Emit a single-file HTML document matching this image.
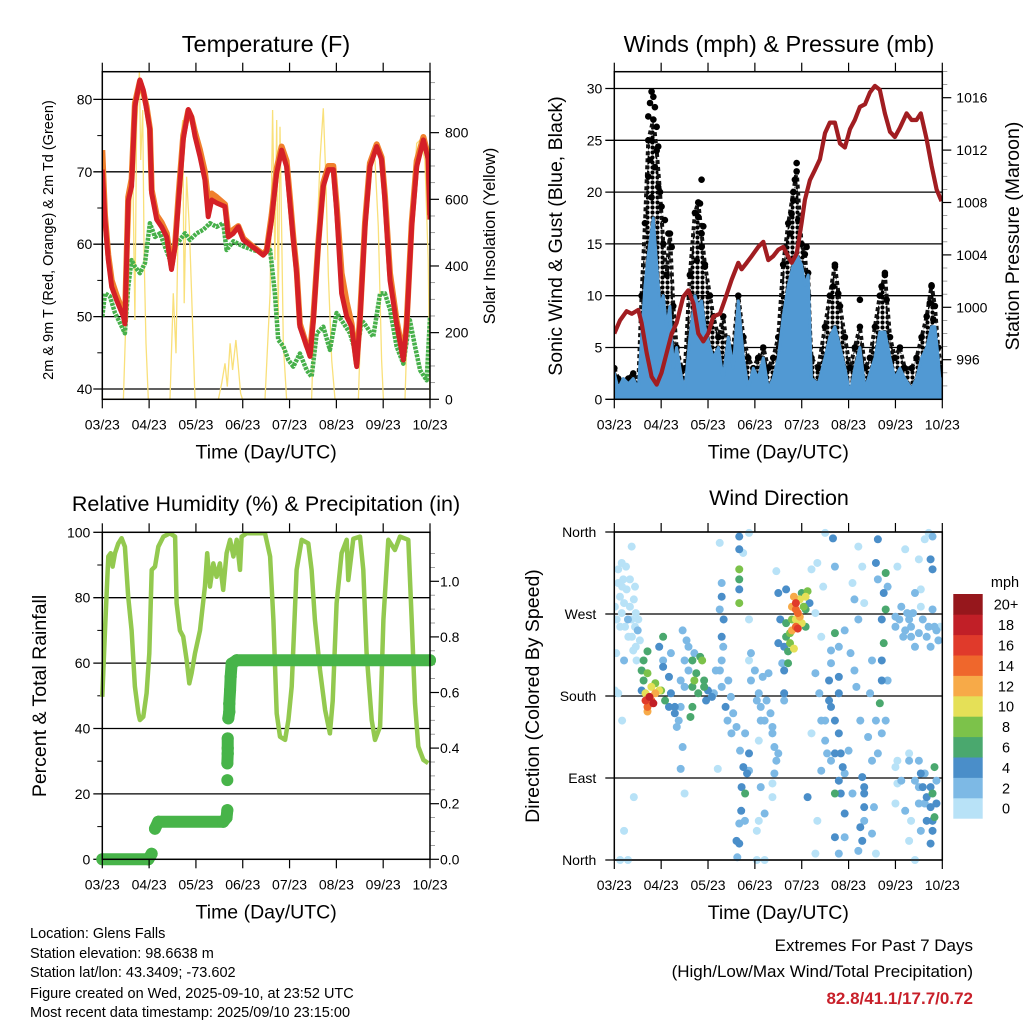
<!DOCTYPE html>
<html><head><meta charset="utf-8"><style>
html,body{margin:0;padding:0;background:#fff}
svg{display:block;font-family:"Liberation Sans",sans-serif}
</style></head><body>
<svg id="chart" width="1024" height="1024" viewBox="0 0 1024 1024" xmlns="http://www.w3.org/2000/svg">
<defs>
<pattern id="gustdots" width="5" height="5" patternUnits="userSpaceOnUse">
<circle cx="2.5" cy="2.5" r="2.1" fill="#000"/>
</pattern>
</defs>
<rect x="0" y="0" width="1024" height="1024" fill="#fff"/>
<g id="p1"></g>
<g id="p2"></g>
<g id="p3"></g>
<g id="p4"></g>
<g font-size="14.5" fill="#000">
<text x="30" y="938">Location: Glens Falls</text>
<text x="30" y="958">Station elevation: 98.6638 m</text>
<text x="30" y="977">Station lat/lon: 43.3409; -73.602</text>
<text x="30" y="998">Figure created on Wed, 2025-09-10, at 23:52 UTC</text>
<text x="30" y="1017">Most recent data timestamp: 2025/09/10 23:15:00</text>
</g>
<g text-anchor="end" font-size="17">
<text x="973" y="951">Extremes For Past 7 Days</text>
<text x="973" y="977">(High/Low/Max Wind/Total Precipitation)</text>
<text x="973" y="1004" fill="#c8202a" font-weight="bold">82.8/41.1/17.7/0.72</text>
</g>
</svg>
<script>
// ---------- DATA ----------
const dayLabels = ["03/23","04/23","05/23","06/23","07/23","08/23","09/23","10/23"];
const dayHours = [0,24,48,72,96,120,144,168];
const tempHours = [0,1.4,3.1,4.8,7.3,10.8,11.6,13.3,15.0,16.7,19.3,21.0,22.7,24.4,25.3,27.9,30.4,33.0,35.5,37.3,39.0,41.5,44.1,45.8,47.5,50.1,52.6,54.3,56.1,58.6,62.9,64.6,67.2,69.7,72.3,75.7,79.1,82.5,84.3,86.8,89.4,91.9,94.5,96.2,97.9,99.6,101.3,104.8,106.5,108.2,110.7,113.3,115.9,118.4,120.1,122.7,125.3,127.8,130.4,132.1,134.7,137.2,140.7,143.2,144.9,147.5,150.9,154.3,156.0,158.6,161.2,164.6,167.1,168];
const tempRed = [70.3,63.4,57.8,54.1,52.3,50,49,66,68,79,82.7,81.3,78.6,75.8,67,63.4,62.4,61,56.5,59.7,65.7,74.4,78.6,77.6,74.9,72.1,68.9,63.8,66.1,65.7,65.2,61,61.5,62.4,60.6,59.9,59.2,58.5,59,63.4,69.8,73,70.7,65.7,60.6,56,48.6,45.9,44.5,49.5,59.7,68,70.3,70.3,64.7,53.2,50,48.6,43.1,49.5,62.4,70.7,73.5,71.7,66.1,55,49,44,48.6,62.4,70.7,74.4,71.7,63.4];
const tempOrange = [73,64,58.5,55,53,50.5,49.5,66.5,69,79.5,82.5,81,79,76,67.5,64,63,61.5,57,60,66.5,75,78.5,77.5,75.5,73,70,66,67,66.5,65.5,61.5,62,62.5,60.8,60,59.3,58.6,59.2,64,70.5,73.5,71.5,66.5,61,56.5,49,46,45,50,60,68.5,70.8,70.8,65.5,56,52,49,43.5,50,63,71.2,73.8,72,66.8,56,49.5,44.5,49,63,71.5,74.8,72.2,64];
const dewHours = [0,1.4,3.9,6.5,9.1,11.6,13.3,15.0,16.7,19.3,21.9,24.4,27.0,29.6,32.1,34.7,37.3,39.8,42.4,44.9,48.4,51.8,55.2,58.6,62.0,63.7,67.2,72.3,77.4,82.5,86.0,88.5,90.2,92.8,95.4,97.9,101.3,104.8,107.3,109.9,113.3,116.7,120.1,123.6,127.0,130.4,133.0,135.5,138.9,142.4,144.9,147.5,150.9,154.3,157.7,160.3,162.9,166.3,168];
const dewVals = [50,53.2,52.8,50.5,49.1,47.7,54.1,57.8,56.9,56,57.4,62.9,61,61.5,59.7,57.8,59.7,60.6,61.5,60.6,61.5,62,62.9,62.4,62.9,59.2,60.4,59.7,59.2,58.8,59.2,53.2,46.8,45.9,44,43.1,44.9,42.6,41.7,47.7,48.6,45.4,50.5,49.1,47.7,44.5,49.5,48.6,47.2,53.2,53.2,51,45.9,43.5,49.5,45.9,42.6,41.2,50];
const solarHours = [0,10.8,12.5,14.2,15.6,16.7,17.6,19.0,19.7,20.7,21.5,22.4,23.6,34.7,36.4,37.8,39.0,40.2,41.2,42.0,43.2,44.6,45.8,47.5,59.5,61.2,62.9,64.1,65.5,66.8,68.5,69.7,70.9,71.9,83.4,86.0,87.3,88.5,89.4,90.2,91.1,91.9,92.8,94.5,107.3,109.0,111.6,113.3,114.6,115.9,117.6,119.3,131.3,133.0,135.5,138.1,139.8,141.5,143.2,144.1,155.2,156.9,159.4,161.2,162.9,165.4,167.1,168];
const solarVals = [0,0,318,518,718,238,818,983,718,868,418,168,0,0,318,138,568,768,838,288,668,518,318,0,0,48,108,38,168,88,178,98,18,0,0,318,868,418,838,238,818,518,168,0,0,318,718,873,668,368,118,0,0,318,618,738,718,518,118,0,0,318,618,768,778,718,418,0];
const presHours = [0,2.9,6.3,8.9,12.3,14.0,16.6,19.1,21.7,24.2,26.8,29.4,31.9,35.3,37.9,40.5,43.0,45.6,48.1,50.7,54.1,56.7,60.1,63.5,65.2,67.8,70.3,73.7,76.3,78.9,81.4,84.0,86.5,88.3,90.8,93.4,95.9,97.6,100.2,102.8,105.3,107.9,110.4,113.0,115.6,118.1,120.7,123.2,125.8,128.4,130.9,133.5,136.0,138.6,141.2,143.7,146.3,149.7,152.3,154.8,157.0,160.0,162.5,165.1,167.6];
const presVals = [998,999,999.7,999.5,999.8,998.8,996.5,994.7,994.1,995,996.5,998,998.8,1000.8,1001.3,1000.3,998,997.4,998,999.3,999.5,1000.6,1002.1,1003.4,1002.9,1003.4,1003.9,1004.6,1005,1003.6,1003.9,1004.4,1004.6,1004.1,1003.4,1004.1,1006.4,1008.2,1009.7,1010.5,1011.3,1013.3,1014.1,1014.1,1012.5,1012.2,1013.6,1014.3,1015.3,1015.5,1016.4,1016.9,1016.6,1014.8,1013.4,1013,1013.7,1014.8,1014.3,1014.3,1014.8,1012.8,1010.8,1009,1008.1];
const windHours = [0,2.0,4.6,7.2,9.7,12.3,14.0,15.7,17.4,20.0,21.7,23.4,25.1,26.8,28.5,30.2,31.9,34.5,36.2,38.7,41.3,43.0,44.7,46.4,49.0,50.7,53.3,55.8,58.4,60.9,63.5,66.1,68.6,71.2,73.7,76.3,78.9,81.4,84.0,86.5,89.1,91.7,93.4,95.9,97.6,99.3,101.0,104.5,107.9,110.4,113.0,115.6,118.1,120.7,123.2,125.8,128.4,130.9,133.5,136.0,138.6,141.2,143.7,146.3,148.8,152.3,154.8,157.4,160.0,162.5,164.2,165.9,167.3,168];
const windVals = [2.5,1,2,1.5,2,1,6,11,14,17.5,13,9,10,7,9,3,5,2,1,6,10,9,9.5,7,5,4,5,2,6,3,9.5,4,1,3,2,4,1,2,4,8,11,13,14,13,11,12,2,1.5,4,6,7,5,3,0.5,3,5,1,2.5,4,6.5,6.5,4,2,3,2,1,2,4,5,7,7,4,0.5,2];
const gustVals = [3,2,1.5,2,2.5,1.5,10,17,25,27,24,20,15,12,16,9,5,3,3,12,18,19,16,13,10,8,6,8,4,5,10,6,4,3,4,5,3,4,6,13,17,20,22,15,14,10,4,3,7,10,13,9,6,3,5,7,3,4,7,10,12,6,4,5,3,3,4,6,8,11,9,5,3,3];
const gustPeakHours = [19.1,20,18.3,20.8,17.4,21.7,19.1,22.5,18.3,20.8,17.4,22.5,19.1,24.2,25.9,27.7,29.4,44.7,43.9,43,45.6,44.7,42.2,46.4,93.4,92.5,91.7,90.8,94.2,90,98.5,99.3,113,112.1,114.7,125.8,138.6,136.9,139.5,162.5,161.6,163.4];
const gustPeakVals = [29.7,29.2,28.6,28.2,27.3,26.3,25,24.4,23.1,22.4,21.5,20.5,19.5,18.6,17.3,16,14.7,21.2,18.9,17.6,16.7,14.7,13.4,12.8,22.8,21.2,19.2,17.9,17.3,16,14.7,12.2,12.8,10.9,10.2,9.6,12.2,10.9,9.6,10.9,9.3,7.7];
const rhHours = [0,1.4,2.2,3.1,4.3,5.3,6.5,8.2,9.9,11.6,13.3,15.0,16.7,18.5,19.3,21.0,22.7,24.1,25.3,27.0,28.7,31.3,34.7,37.3,38.1,39.8,41.5,43.2,44.6,45.8,47.5,50.1,52.6,53.8,55.2,56.9,58.6,60.3,62.0,63.7,65.5,67.2,68.9,70.6,71.4,74.0,79.1,83.4,86.0,87.7,89.4,91.1,93.7,95.4,97.1,99.6,102.2,105.6,107.3,109.0,111.6,114.2,116.7,118.1,120.1,122.7,125.3,126.1,128.7,132.1,133.8,135.5,138.1,139.8,142.4,144.1,146.6,150.0,152.6,156.9,158.6,160.3,162.0,164.6,167.1];
const rhVals = [49.7,70,81,92.6,93.6,89.5,93.6,96.6,98.2,95.6,80.3,70,52.8,44.6,42.6,43.6,50.8,63,88.5,89.5,95.6,98.7,99.7,98.7,78.3,70,68.1,61,53.8,56.9,63,70,83.4,93.6,83.4,90.5,86.4,90.5,82.4,93.6,97.7,92.6,97.7,88.5,98.7,99.7,99.7,99.7,92.6,73.2,44.6,37.5,36.5,42.6,52.8,88.5,97.7,96.6,88.5,73.2,57.9,45.7,38.5,48.4,78.3,93.6,97.7,85.4,98,98.7,88.5,63,42.6,36.5,40.6,73.2,97.7,94.6,98.7,97.7,73.2,47.7,34.5,30.4,29.4];
const prHours = [0,23.6,25.3,27.0,28.7,62.0,63.7,64.1,64.1,64.1,64.3,64.3,64.3,64.6,65.1,65.1,65.5,65.8,66.3,68.9,168];
const prVals = [0,0,0.02,0.11,0.135,0.135,0.15,0.177,0.285,0.345,0.38,0.40,0.435,0.507,0.53,0.56,0.608,0.656,0.704,0.716,0.716];
const dirHour = [2,4,5,7,9,11,3,1,5,8,10,12,11,6,2,4,10,5,3,7,
16,18,20,17,21,23,19,15,15,17,24,26,25,28,25,14,17,
31,33,34,36,38,40,41,43,45,46,48,40,39,35,34,50,52,36,
55,54,55,56,55,55,57,58,60,53,54,
64,64,64,64,64,64,66,69,67,69,68,67,65,64,64,63,69,
70,72,74,75,77,79,81,82,83,81,74,75,73,73,77,83,84,85,87,87,87,88,69,
92,93,94,93,91,93,95,98,99,97,90,92,89,94,88,98,89,
101,104,108,112,113,107,103,106,111,113,110,111,113,115,116,110,108,115,118,116,113,118,113,104,103,115,101,106,99,122,123,125,127,125,
127,128,128,126,127,133,132,134,135,134,135,138,139,137,138,137,137,136,139,137,140,139,140,
144,147,151,152,154,149,157,161,163,165,167,145,149,156,159,162,163,161,163,145,151,156,159,162,164,163,165,164,163,162,159,156,152,151,154,145,144,
0.3,1.2,3.8,5.5,7.2,8.9,10.6,12.3,2.9,4.6,6.3,8.0,9.7,11.4,13.1,3.8,2.0,0.3,10.6,8.9,
29,31,32,34,36,38,40,44,42,46,47,51,28,23,25,29,35,37,41,17,14,21,19,16,
55,55.8,54.1,58.4,59.7,60.9,62.6,64.4,66.1,65.2,66.9,62.6,
70,73,75,76,78,80,81,84,82,81,77,74,84,86,87,69,
91,93,95,96,91,90,98,100,88,96,
103,105,106,108,109,111,115,117,120,122,118,113,115,111,115,118,121,123,124,126,130,132,128,128,125,135,134,131,132,128,
144,146,148,150,152,153,156,158,160,162,154,157,164,166,157,158,160,162,163,165,160,157,156,154,151,147,144,149];
const dirDeg = [319,300,282,264,245,234,256,227,219,308,286,252,271,322,183,153,69,32,0,0,
175,179,172,168,183,186,190,197,219,205,186,175,245,201,212,186,163,
168,153,197,219,234,190,197,183,219,197,186,168,157,124,100,179,208,73,
304,275,245,264,219,190,168,153,139,100,348,
355,341,319,308,282,297,337,359,139,117,95,73,54,40,18,3,98,
227,208,183,168,153,205,146,124,109,84,131,80,32,0,0,317,293,264,234,208,175,297,264,
289,282,271,264,252,256,267,289,295,278,238,232,229,254,260,256,216,
319,326,359,353,322,300,271,245,230,249,175,168,153,139,117,197,153,201,95,73,73,51,25,43,7,7,139,98,69,304,286,264,322,344,
91,73,58,36,21,58,29,7,352,326,308,293,315,264,238,219,197,172,153,139,197,275,300,
267,278,264,245,234,252,278,256,275,252,256,322,341,330,352,330,319,359,355,109,117,109,95,80,102,73,62,47,32,18,62,80,43,21,0,84,62,
278,264,271,256,245,264,256,264,289,308,297,278,230,219,241,326,304,186,300,344,
183,161,146,168,190,208,219,223,205,190,175,183,168,234,219,227,252,241,227,229,208,194,175,183,
289,234,208,197,179,161,146,120,102,80,43,21,
197,175,153,201,175,161,139,117,95,69,51,43,238,216,183,219,
278,275,286,260,264,249,275,282,245,293,
205,183,153,131,117,109,87,102,120,73,25,117,183,216,234,252,227,208,190,153,135,109,80,43,10,117,153,183,219,282,
256,264,245,271,256,271,249,264,245,234,293,297,256,241,95,80,69,58,43,87,43,32,62,87,109,87,102,54];
const dirSpd = [1,0,1,2,1,1,0,1,2,1,0,2,1,0,1,1,1,0,0,0,
16,18,19,14,12,10,11,7,6,8,9,6,7,5,4,4,13,
4,3,3,2,2,7,8,7,8,6,4,6,6,3,2,4,3,1,
3,3,4,5,3,3,4,3,2,1,1,
4,5,8,6,8,4,1,1,3,4,4,6,4,3,4,3,3,
2,2,2,2,2,2,2,3,2,1,1,2,1,1,1,1,4,4,4,5,3,4,1,
13,16,14,11,13,15,12,10,8,8,9,10,7,17,7,6,6,
1,1,1,4,3,1,1,1,3,6,4,4,4,4,4,4,3,4,3,4,7,4,4,1,1,2,1,2,4,1,2,2,1,1,
4,4,4,4,4,2,2,1,4,4,3,4,7,4,6,4,4,6,3,2,3,6,2,
2,3,3,2,3,2,1,3,2,2,1,1,1,1,1,4,4,1,2,1,1,2,3,4,7,7,4,7,4,4,3,2,1,1,1,1,1,
1,0,1,0,1,0,1,0,1,0,1,0,1,0,1,0,1,0,1,0,
4,4,3,3,3,3,6,7,7,6,4,3,4,4,3,2,2,2,3,6,7,9,14,10,
4,3,2,2,3,2,2,3,4,4,3,4,
2,2,2,2,2,2,2,3,2,1,2,1,4,3,4,1,
12,14,10,11,9,8,7,4,6,6,
2,2,2,3,2,2,4,4,2,2,3,4,4,3,3,2,2,2,2,2,2,2,4,3,2,2,2,2,2,1,
2,2,2,2,2,2,2,2,3,3,2,1,2,2,4,4,4,4,4,3,4,3,2,2,2,2,1,2];
const speedBinLabels = ["0","2","4","6","8","10","12","14","16","18","20+"];
const speedColors = ["#b8e2f7","#7db9e5","#4a8ec9","#4aa86e","#7cc24a","#e5e057","#f7aa48","#ef672c","#e03a2b","#c11f27","#96171c"];

// ---------- HELPERS ----------
const NS="http://www.w3.org/2000/svg";
function mk(parent, tag, attrs, name){
  const el=document.createElementNS(NS,tag);
  for(const k in attrs) el.setAttribute(k,attrs[k]);
  
  
  parent.appendChild(el);
  return el;
}
function txt(parent, x, y, s, size, anchor, name, extra){
  const t=mk(parent,'text',Object.assign({x:x,y:y,'font-size':size,'text-anchor':anchor||'middle',fill:'#000'},extra||{}),name);
  t.textContent=s; return t;
}
function vtxt(parent, x, y, s, size, name){
  const t=mk(parent,'text',{x:0,y:0,'font-size':size,'text-anchor':'middle',transform:`translate(${x},${y}) rotate(-90)`},name);
  t.textContent=s; return t;
}
function line(parent,x1,y1,x2,y2,w,name,col){
  return mk(parent,'line',{x1:x1,y1:y1,x2:x2,y2:y2,stroke:col||'#000','stroke-width':w},name);
}
function pts(xs,ys,fx,fy){return xs.map((h,i)=>fx(h).toFixed(1)+','+fy(ys[i]).toFixed(1)).join(' ');}

function frame(g,L,R,T,B,fx,name){
  mk(g,'rect',{x:L,y:T,width:R-L,height:B-T,fill:'none',stroke:'#000','stroke-width':1.5},name+'-frame');
  dayHours.forEach((h,i)=>{
    const x=fx(h);
    line(g,x,B,x,B+9,1.2,name+'-x-tick');
    line(g,x,T,x,T-9,1.2,name+'-x-tick-top');
    txt(g,x,B+30,dayLabels[i],14,'middle',name+'-x-label');
  });
  txt(g,(L+R)/2,B+59,'Time (Day/UTC)',19.5,'middle',name+'-x-title');
}

// ---------- PANEL 1 ----------
(function(){
  const g=document.getElementById('p1');
  const L=102.3,R=430,T=71.7,B=399.3;
  const xT=h=>L+h/168*(R-L);
  const yT=t=>389-(t-40)*7.24;
  const yS=s=>B-s*0.3333;
  [40,50,60,70,80].forEach(v=>{
    line(g,L-9,yT(v),R,yT(v),1.3,'temp-gridline');
    txt(g,L-10,yT(v)+5,String(v),14,'end','temp-y-tick-label');
  });
  [45,55,65,75].forEach(v=>line(g,L-5,yT(v),L,yT(v),1,'temp-minor-tick'));
  [0,200,400,600,800].forEach(v=>{
    line(g,R,yS(v),R+9,yS(v),1.2,'solar-tick');
    txt(g,R+15,yS(v)+5,String(v),14,'start','solar-tick-label');
  });
  for(let v=50;v<=950;v+=50){ if(v%200) line(g,R,yS(v),R+5,yS(v),0.8,'solar-minor-tick','#888'); }
  const clip=mk(g,'clipPath',{id:'c1'},'temp-clip');
  mk(clip,'rect',{x:L,y:T,width:R-L,height:B-T},'temp-clip-rect');
  const d=mk(g,'g',{'clip-path':'url(#c1)'},'temp-series');
  mk(d,'polyline',{points:pts(solarHours,solarVals,xT,yS),fill:'none',stroke:'#f9e07a','stroke-width':1.3},'solar-line');
  mk(d,'polyline',{points:pts(dewHours,dewVals,xT,yT),fill:'none',stroke:'#46b04a','stroke-width':4.5,'stroke-linejoin':'round','stroke-dasharray':'3 1'},'dewpoint-line');
  mk(d,'polyline',{points:pts(tempHours,tempOrange,xT,yT),fill:'none',stroke:'#f0802d','stroke-width':6,'stroke-linejoin':'round'},'temp-9m-line');
  mk(d,'polyline',{points:pts(tempHours,tempRed,xT,yT),fill:'none',stroke:'#d42027','stroke-width':5,'stroke-linejoin':'round'},'temp-2m-line');
  frame(g,L,R,T,B,xT,'temp');
  txt(g,266,52,'Temperature (F)',23.5,'middle','temp-title');
  vtxt(g,53,240,'2m & 9m T (Red, Orange) & 2m Td (Green)',14.5,'temp-y-title');
  vtxt(g,495,236,'Solar Insolation (Yellow)',16.5,'solar-y-title');
})();

// ---------- PANEL 2 ----------
(function(){
  const g=document.getElementById('p2');
  const L=614.3,R=942.3,T=71.7,B=399.3;
  const xW=h=>L+h/168*(R-L);
  const yW=v=>B-v*10.36;
  const yP=p=>359.7-(p-996)*13.1;
  [0,5,10,15,20,25,30].forEach(v=>{
    line(g,L-9,yW(v),R,yW(v),1.3,'wind-gridline');
    txt(g,L-12,yW(v)+5,String(v),14,'end','wind-y-tick-label');
  });
  [996,1000,1004,1008,1012,1016].forEach(v=>{
    line(g,R,yP(v),R+9,yP(v),1.2,'pressure-tick');
    txt(g,R+14,yP(v)+5,String(v),14,'start','pressure-tick-label');
  });
  for(let v=994;v<=1018;v++){ if(v%4) line(g,R,yP(v),R+5,yP(v),0.8,'pressure-minor-tick','#888'); }
  const clip=mk(g,'clipPath',{id:'c2'},'wind-clip');
  mk(clip,'rect',{x:L,y:T,width:R-L,height:B-T},'wind-clip-rect');
  const d=mk(g,'g',{'clip-path':'url(#c2)'},'wind-series');
  const top=windHours.map((h,i)=>xW(h).toFixed(1)+','+yW(gustVals[i]).toFixed(1));
  const bot=windHours.map((h,i)=>xW(h).toFixed(1)+','+yW(windVals[i]).toFixed(1)).reverse();
  mk(d,'polygon',{points:top.concat(bot).join(' '),fill:'url(#gustdots)','stroke':'#111','stroke-width':4,'stroke-dasharray':'4 3','stroke-linejoin':'round'},'gust-band');
  windHours.forEach((h,i)=>{
    mk(d,'circle',{cx:xW(h),cy:yW(gustVals[i]),r:3.3,fill:'#000'},'gust-dot');
  });
  gustPeakHours.forEach((h,i)=>{
    mk(d,'circle',{cx:xW(h),cy:yW(gustPeakVals[i]),r:3.3,fill:'#000'},'gust-peak-dot');
  });
  const area=windHours.map((h,i)=>xW(h).toFixed(1)+','+yW(windVals[i]).toFixed(1));
  area.push(xW(168)+','+yW(0),xW(0)+','+yW(0));
  mk(d,'polygon',{points:area.join(' '),fill:'#5199d3',stroke:'#5199d3','stroke-width':3,'stroke-linejoin':'round'},'wind-area');
  mk(d,'polyline',{points:pts(presHours,presVals,xW,yP),fill:'none',stroke:'#a11d21','stroke-width':4.2,'stroke-linejoin':'round'},'pressure-line');
  frame(g,L,R,T,B,xW,'wind');
  txt(g,779,52,'Winds (mph) & Pressure (mb)',23.5,'middle','wind-title');
  vtxt(g,562,236,'Sonic Wind & Gust (Blue, Black)',19.5,'wind-y-title');
  vtxt(g,1019,236,'Station Pressure (Maroon)',19.5,'pressure-y-title');
})();

// ---------- PANEL 3 ----------
(function(){
  const g=document.getElementById('p3');
  const L=102.3,R=430,T=532.3,B=859.3;
  const xR=h=>L+h/168*(R-L);
  const yR=r=>B-r*3.27;
  const yPr=p=>B-p*278;
  [0,20,40,60,80,100].forEach(v=>{
    if(v>0&&v<100) line(g,L-9,yR(v),R,yR(v),1.3,'rh-gridline');
    else line(g,L-9,yR(v),L,yR(v),1.3,'rh-tick');
    txt(g,L-12,yR(v)+5,String(v),14,'end','rh-y-tick-label');
  });
  [10,30,50,70,90].forEach(v=>line(g,L-5,yR(v),L,yR(v),1,'rh-minor-tick'));
  [0,0.2,0.4,0.6,0.8,1.0].forEach(v=>{
    line(g,R,yPr(v),R+9,yPr(v),1.2,'precip-tick');
    txt(g,R+10,yPr(v)+5,v.toFixed(1),14,'start','precip-tick-label');
  });
  for(let v=0.05;v<1.15;v+=0.05){ if(Math.abs(v*5-Math.round(v*5))>0.01) line(g,R,yPr(v),R+5,yPr(v),0.8,'precip-minor-tick','#888'); }
  const clip=mk(g,'clipPath',{id:'c3'},'rh-clip');
  mk(clip,'rect',{x:L-8,y:T,width:R-L+16,height:B-T+8},'rh-clip-rect');
  const d=mk(g,'g',{'clip-path':'url(#c3)'},'rh-series');
  mk(d,'polyline',{points:pts(rhHours,rhVals,xR,yR),fill:'none',stroke:'#93c94f','stroke-width':4.5,'stroke-linejoin':'round'},'rh-line');
  for(let i=1;i<prHours.length;i++){
    if(Math.abs(prVals[i]-prVals[i-1])<0.05)
      line(d,xR(prHours[i-1]),yPr(prVals[i-1]),xR(prHours[i]),yPr(prVals[i]),12,'precip-segment','#47b449').setAttribute('stroke-linecap','round');
  }
  prHours.forEach((h,i)=>{
    mk(d,'circle',{cx:xR(h),cy:yPr(prVals[i]),r:6,fill:'#47b449'},'precip-dot');
  });
  frame(g,L,R,T,B,xR,'rh');
  txt(g,266,511,'Relative Humidity (%) & Precipitation (in)',21.5,'middle','rh-title');
  vtxt(g,46,696,'Percent & Total Rainfall',19.5,'rh-y-title');
})();

// ---------- PANEL 4 ----------
(function(){
  const g=document.getElementById('p4');
  const L=614.3,R=942.3,T=532,B=860;
  const xD=h=>L+h/168*(R-L);
  const yD=dg=>B-dg/360*(B-T);
  const dirLabels=["North","East","South","West","North"];
  [0,90,180,270,360].forEach((v,i)=>{
    line(g,L-9,yD(v),R,yD(v),1.3,'direction-gridline');
    txt(g,L-18,yD(v)+5,dirLabels[i],14,'end','direction-y-tick-label');
  });
  const clip=mk(g,'clipPath',{id:'c4'},'dir-clip');
  mk(clip,'rect',{x:L,y:T-4,width:R-L,height:B-T+8},'dir-clip-rect');
  const d=mk(g,'g',{'clip-path':'url(#c4)'},'direction-points');
  const order=dirHour.map((h,i)=>i).sort((a,b)=>dirSpd[a]-dirSpd[b]);
  order.forEach(i=>{
    const bin=Math.min(10,Math.floor(dirSpd[i]/2));
    mk(d,'circle',{cx:xD(dirHour[i]),cy:yD(dirDeg[i]),r:4,fill:speedColors[bin]},'direction-point');
  });
  frame(g,L,R,T,B,xD,'dir');
  txt(g,779,505,'Wind Direction',21.5,'middle','direction-title');
  vtxt(g,539,696,'Direction (Colored By Speed)',19.5,'direction-y-title');
  const cb=mk(g,'g',{},'speed-colorbar');
  const cbTop=594, cbH=20.4;
  speedBinLabels.forEach((lab,k)=>{
    const j=10-k;
    mk(cb,'rect',{x:953.3,y:cbTop+j*cbH,width:29.4,height:cbH+0.3,fill:speedColors[k]},'colorbar-swatch');
    txt(cb,1006,cbTop+j*cbH+cbH/2+5.5,lab,14.5,'middle','colorbar-label');
  });
  txt(cb,1005,587,'mph',14.5,'middle','colorbar-unit');
})();
</script>
</body></html>
